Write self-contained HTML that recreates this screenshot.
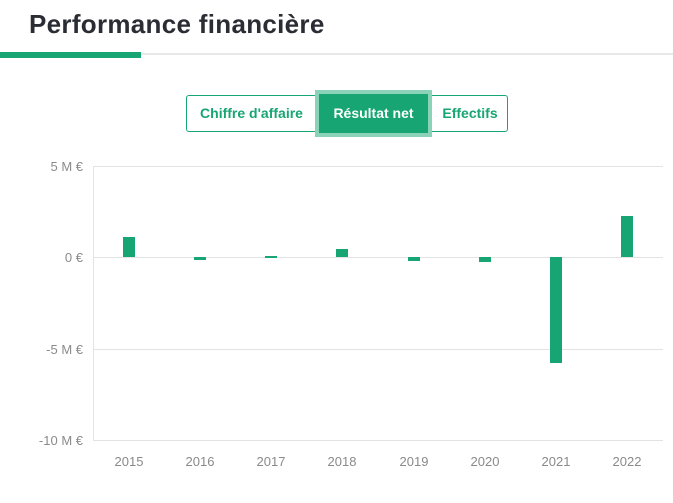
<!DOCTYPE html><html><head><style>
body{margin:0;width:673px;height:503px;background:#fff;font-family:"Liberation Sans",sans-serif;position:relative;overflow:hidden}
.t{position:absolute;left:29px;top:9px;font-size:26px;font-weight:bold;color:#2a2d33;letter-spacing:0.3px}
.btn{position:absolute;top:95px;height:37px;line-height:37px;font-size:14px;font-weight:bold;color:#17a673;text-align:center;box-sizing:border-box}
</style></head><body>
<div class="t">Performance financière</div>
<div style="position:absolute;left:0;top:53px;width:673px;height:2px;background:#e8e8e8"></div>
<div style="position:absolute;left:0;top:52px;width:141px;height:6px;background:#17a673"></div>
<div style="position:absolute;left:186px;top:95px;width:322px;height:37px;border:1px solid #17a673;border-radius:3px;box-sizing:border-box"></div>
<div class="btn" style="left:186px;width:131px">Chiffre d'affaire</div>
<div style="position:absolute;left:315px;top:90px;width:117px;height:47px;background:#8ad3b8"></div>
<div class="btn" style="left:319px;width:109px;top:94px;height:39px;line-height:39px;background:#17a673;color:#fff">Résultat net</div>
<div class="btn" style="left:432px;width:76px">Effectifs</div>
<svg style="position:absolute;left:0;top:0" width="673" height="503">
<g stroke="#e3e3e3" stroke-width="1">
<line x1="93" y1="166.5" x2="663" y2="166.5"/><line x1="93" y1="257.5" x2="663" y2="257.5"/>
<line x1="93" y1="349.5" x2="663" y2="349.5"/><line x1="93" y1="440.5" x2="663" y2="440.5"/>
<line x1="93.5" y1="166" x2="93.5" y2="441"/>
</g>
<g font-size="13" fill="#8a8a8a" text-anchor="end">
<text x="83" y="171">5 M €</text><text x="83" y="262">0 €</text><text x="83" y="354">-5 M €</text><text x="83" y="445">-10 M €</text>
</g>
<g font-size="13" fill="#8a8a8a" text-anchor="middle">
<text x="129" y="466">2015</text><text x="200" y="466">2016</text><text x="271" y="466">2017</text><text x="342" y="466">2018</text><text x="414" y="466">2019</text><text x="485" y="466">2020</text><text x="556" y="466">2021</text><text x="627" y="466">2022</text>
</g>
<g fill="#17a673">
<rect x="123" y="237" width="12" height="20"/>
<rect x="194" y="257" width="12" height="3"/>
<rect x="265" y="256" width="12" height="2"/>
<rect x="336" y="249" width="12" height="8"/>
<rect x="408" y="257" width="12" height="4"/>
<rect x="479" y="257" width="12" height="5"/>
<rect x="550" y="257" width="12" height="106"/>
<rect x="621" y="216" width="12" height="41"/>
</g>
</svg>
</body></html>
